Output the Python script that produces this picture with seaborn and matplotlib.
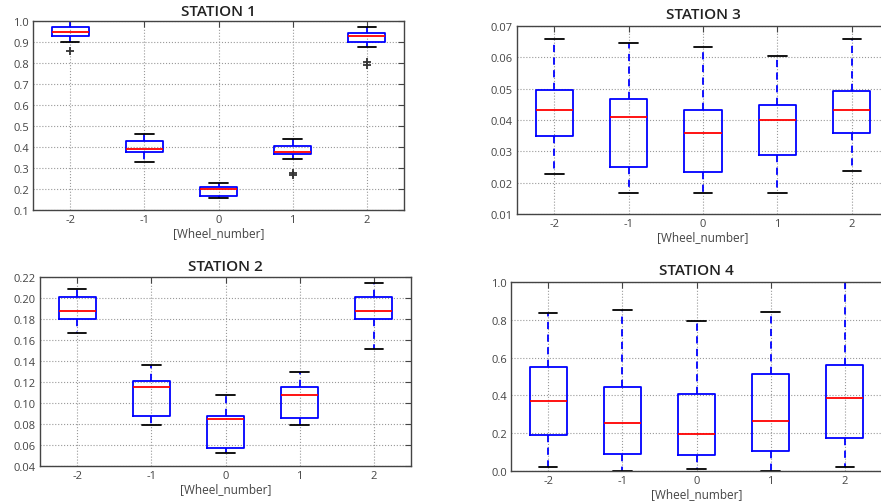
import pandas as pd
import numpy as np
import matplotlib
matplotlib.use('Agg')
import matplotlib.pyplot as plt
import seaborn as sns

wheels = [-2, -1, 0, 1, 2]

# box statistics: lower whisker, Q1, median, Q3, upper whisker, fliers
s1_lo = [0.900, 0.330, 0.155, 0.345, 0.875]
s1_q1 = [0.930, 0.375, 0.165, 0.365, 0.900]
s1_med = [0.950, 0.390, 0.200, 0.375, 0.930]
s1_q3 = [0.970, 0.430, 0.210, 0.405, 0.945]
s1_hi = [1.000, 0.460, 0.230, 0.440, 0.970]
s1_out = [[0.855], [], [], [0.275, 0.265], [0.805, 0.790]]

s2_lo = [0.1665, 0.079, 0.0525, 0.079, 0.151]
s2_q1 = [0.180, 0.088, 0.0575, 0.0855, 0.180]
s2_med = [0.1875, 0.115, 0.0845, 0.1075, 0.1875]
s2_q3 = [0.201, 0.121, 0.088, 0.115, 0.201]
s2_hi = [0.209, 0.1365, 0.108, 0.130, 0.214]
s2_out = [[], [], [], [], []]

s3_lo = [0.0228, 0.0167, 0.0167, 0.0167, 0.0238]
s3_q1 = [0.0350, 0.0250, 0.0235, 0.0289, 0.0360]
s3_med = [0.0433, 0.0410, 0.0360, 0.0400, 0.0433]
s3_q3 = [0.0497, 0.0467, 0.0433, 0.0447, 0.0494]
s3_hi = [0.0657, 0.0647, 0.0632, 0.0605, 0.0657]
s3_out = [[], [], [], [], []]

s4_lo = [0.020, 0.000, 0.010, 0.000, 0.020]
s4_q1 = [0.190, 0.090, 0.083, 0.107, 0.172]
s4_med = [0.370, 0.253, 0.198, 0.267, 0.388]
s4_q3 = [0.550, 0.447, 0.405, 0.512, 0.563]
s4_hi = [0.835, 0.850, 0.795, 0.840, 1.000]
s4_out = [[], [], [], [], []]


def expand(lo, q1, med, q3, hi, out):
    # 13 values whose quartiles (linear) land exactly on q1 / med / q3
    vals = [lo, lo, lo, q1, q1, med, med, med, q3, q3, hi, hi, hi]
    vals[:len(out)] = out
    return vals


def make_frame(lo, q1, med, q3, hi, out):
    rows = []
    for i, w in enumerate(wheels):
        for v in expand(lo[i], q1[i], med[i], q3[i], hi[i], out[i]):
            rows.append({'Wheel_number': w, 'value': v})
    return pd.DataFrame(rows)


stations = [
    ('STATION 1', make_frame(s1_lo, s1_q1, s1_med, s1_q3, s1_hi, s1_out),
     (0.1, 1.0), np.arange(0.1, 1.01, 0.1), '%.1f', (33, 22, 404, 211), 4, True),
    ('STATION 3', make_frame(s3_lo, s3_q1, s3_med, s3_q3, s3_hi, s3_out),
     (0.01, 0.07), np.arange(0.01, 0.0701, 0.01), '%.2f', (517, 27, 889, 215), 6, False),
    ('STATION 2', make_frame(s2_lo, s2_q1, s2_med, s2_q3, s2_hi, s2_out),
     (0.04, 0.22), np.arange(0.04, 0.2201, 0.02), '%.2f', (40, 278, 411, 467), 5, True),
    ('STATION 4', make_frame(s4_lo, s4_q1, s4_med, s4_q3, s4_hi, s4_out),
     (0.0, 1.0), np.arange(0.0, 1.01, 0.2), '%.1f', (511, 283, 882, 472), 6, False),
]

sns.set_style('white')
plt.rcParams['font.family'] = ['Open Sans', 'DejaVu Sans']

W, H = 881, 502
fig = plt.figure(figsize=(W / 100, H / 100), dpi=100)

for title, df, ylim, yticks, fmt, (x0, y0, x1, y1), tpad, rticks in stations:
    ax = fig.add_axes([x0 / W, (H - y1) / H, (x1 - x0) / W, (y1 - y0) / H])
    sns.boxplot(data=df, x='Wheel_number', y='value', order=wheels, ax=ax,
                width=0.5, fill=False, whis=1.5, linewidth=1.3,
                boxprops=dict(color='blue'),
                medianprops=dict(color='red'),
                whiskerprops=dict(color='blue', linestyle=(0, (4, 3))),
                capprops=dict(color='black'),
                flierprops=dict(marker='+', markeredgecolor='#333333',
                                markersize=6, markeredgewidth=1.3))
    ax.set_ylim(*ylim)
    ax.set_yticks(yticks)
    ax.set_yticklabels([fmt % t for t in yticks])
    ax.set_xlim(-0.5, 4.5)
    ax.grid(True, linestyle=':', color='#999999', linewidth=0.8)
    ax.set_axisbelow(True)
    for sp in ax.spines.values():
        sp.set_color('#444444')
        sp.set_linewidth(1.0)
    ax.tick_params(direction='in', top=True, right=rticks, labelsize=8,
                   labelcolor='#444444', length=4, color='#444444', pad=3)
    ax.set_title(title, fontsize=11, fontweight='semibold', color='#222222', pad=tpad)
    ax.set_xlabel('[Wheel_number]', fontsize=8.5, color='#444444', labelpad=1)
    ax.set_ylabel('')

fig.savefig('out.png', dpi=100)
